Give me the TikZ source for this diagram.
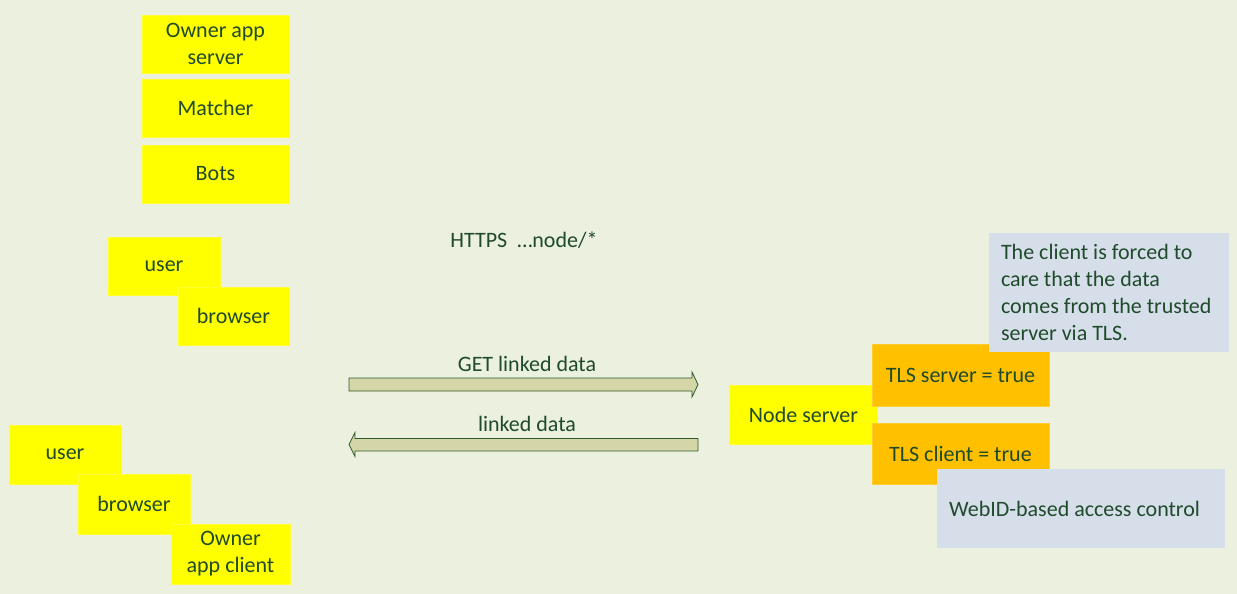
\documentclass[tikz,border=0pt]{standalone}
\usepackage{fontspec}
\setmainfont{Carlito}
\definecolor{bg}{HTML}{EBF1DE}
\definecolor{txt}{HTML}{1F4A2C}
\definecolor{ylw}{HTML}{FFFF00}
\definecolor{org}{HTML}{FFC000}
\definecolor{cmt}{HTML}{D6DFE9}
\definecolor{arrfill}{HTML}{D5D6A8}
\definecolor{arrline}{HTML}{2E5A2E}
\begin{document}
\begin{tikzpicture}[x=1pt,y=-1pt,
  every node/.style={text=txt,font=\fontsize{22}{27}\selectfont},
  ybox/.style={fill=ylw,draw=ylw!80!white,line width=0.6pt,inner sep=0pt,align=center},
  obox/.style={fill=org,draw=org!80!white,line width=0.6pt,inner sep=0pt,align=center},
  cbox/.style={fill=cmt,inner sep=0pt,inner xsep=12pt,align=flush left},
  blockarrow/.style={fill=arrfill,draw=arrline,line width=0.8pt,line join=miter},
  lbl/.style={inner sep=0pt}]
\useasboundingbox[fill=bg] (0,0) rectangle (1237,594);
% top-left stack
\node[ybox,minimum width=147pt,minimum height=58pt] (oas) at (215.5,44) {Owner app\\server};
\node[ybox,minimum width=147pt,minimum height=58pt] (match) at (215.5,108) {Matcher};
\node[ybox,minimum width=147pt,minimum height=58pt] (bots) at (215.5,174) {Bots};
% user/browser
\node[ybox,minimum width=112pt,minimum height=58pt] (user1) at (164,266) {user};
\node[ybox,minimum width=111pt,minimum height=58pt] (browser1) at (233.5,316) {browser};
% bottom-left stair
\node[ybox,minimum width=112pt,minimum height=59pt] (user2) at (65,454.5) {user};
\node[ybox,minimum width=112pt,minimum height=60pt] (browser2) at (134,504) {browser};
\node[ybox,minimum width=119pt,minimum height=60pt] (oac) at (230.5,554) {Owner\\app client};
% labels
\node[lbl] (https) at (524,240) {HTTPS\ \ …node/*};
\node[lbl] (get) at (527,364) {GET linked data};
\node[lbl] (ld) at (527,424) {linked data};
% block arrows
\coordinate (a1s) at (349,384.5);
\coordinate (a1e) at (698,384.5);
\coordinate (a2s) at (698,444.5);
\coordinate (a2e) at (349,444.5);
\draw[blockarrow] ([yshift=-6.5pt]a1s) -- ([xshift=-6pt,yshift=-6.5pt]a1e) -- ([xshift=-6pt,yshift=-12.5pt]a1e) -- (a1e)
  -- ([xshift=-6pt,yshift=12.5pt]a1e) -- ([xshift=-6pt,yshift=6.5pt]a1e) -- ([yshift=6.5pt]a1s) -- cycle;
\draw[blockarrow] ([yshift=-6.5pt]a2s) -- ([xshift=6pt,yshift=-6.5pt]a2e) -- ([xshift=6pt,yshift=-12pt]a2e) -- (a2e)
  -- ([xshift=6pt,yshift=12pt]a2e) -- ([xshift=6pt,yshift=6pt]a2e) -- ([yshift=6pt]a2s) -- cycle;
% right side
\node[ybox,minimum width=148pt,minimum height=59pt] (node) at (803.5,414.5) {Node server};
\node[obox,minimum width=177pt,minimum height=62pt] (tlss) at (960.5,375) {TLS server = true};
\node[obox,minimum width=177pt,minimum height=61pt] (tlsc) at (960.5,453.5) {TLS client = true};
\node[cbox,minimum width=240pt,minimum height=119pt,text width=216pt] (c1) at (1109,292.5)
  {The client is forced to\\care that the data\\comes from the trusted\\server via TLS.};
\node[cbox,minimum width=288pt,minimum height=79pt,text width=264pt] (c2) at (1081,508.5)
  {WebID-based access control};
\end{tikzpicture}
\end{document}
